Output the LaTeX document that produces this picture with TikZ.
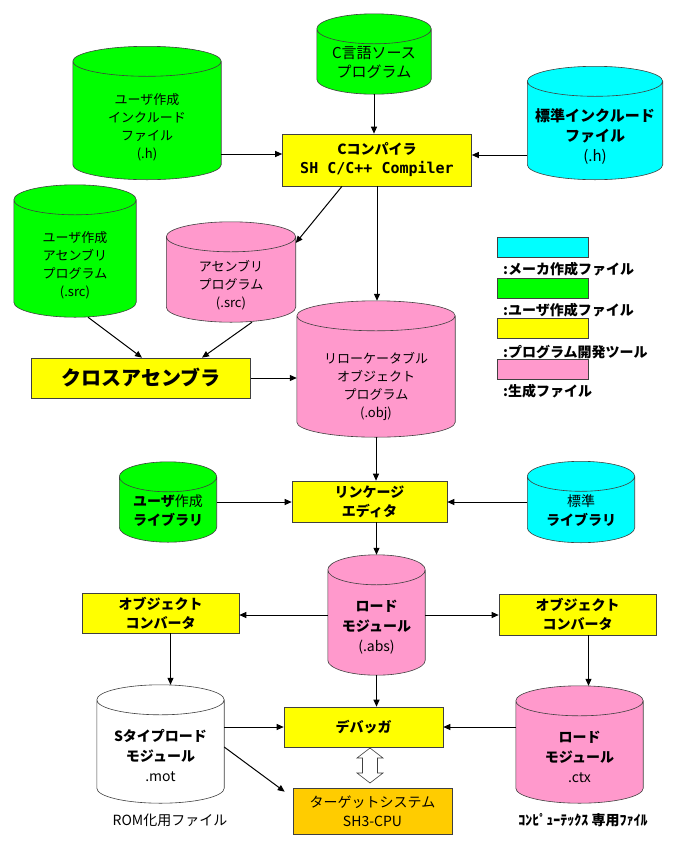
\documentclass[tikz,border=0pt]{standalone}
\usepackage{fontspec}
\setmainfont{Noto Sans CJK JP}
\newfontfamily\latinmono{DejaVu Sans Mono}
\usetikzlibrary{calc,arrows.meta}
\definecolor{makerfile}{RGB}{0,255,255}
\definecolor{userfile}{RGB}{0,255,0}
\definecolor{toolbox}{RGB}{255,255,0}
\definecolor{genfile}{RGB}{255,153,204}
\definecolor{targetbox}{RGB}{255,204,0}

\begin{document}
\begin{tikzpicture}[x=1pt,y=1pt]
            \tikzstyle{every node}+=[inner sep=0pt, font=\fontsize{13}{18}\selectfont]
            \tikzstyle{file}=[rectangle, append after command={\pgfextra{
                \path [fill=#1, draw=black!75, line width=0.6pt] let \p1=(\tikzlastnode.north west), \p2=(\tikzlastnode.south east), \n1={(\x2-\x1)/2}, \n2={\pgfkeysvalueof{/tikz/ry}} in
                    (\x1,\y1-\n2) -- (\x1,\y2+\n2) arc [start angle=180, end angle=360, x radius=\n1, y radius=\n2] -- (\x2,\y1-\n2) arc [start angle=0, end angle=180, x radius=\n1, y radius=\n2] -- cycle
                    (\x1,\y1-\n2) arc [start angle=180, end angle=360, x radius=\n1, y radius=\n2];}}]
            \tikzset{ry/.initial=15pt}
            \tikzstyle{ftext}=[align=center]
            \tikzstyle{tool}=[rectangle, draw=black!75, line width=0.6pt, fill=toolbox, align=center, font=\fontsize{14}{19}\selectfont\bfseries]
            \tikzstyle{legend}=[rectangle, draw=black!75, line width=0.6pt, minimum width=91pt, minimum height=20pt]
            \tikzstyle{legtext}=[anchor=west, font=\fontsize{14}{18}\selectfont\bfseries]
            \tikzstyle{flow}=[-{Triangle[length=7pt,width=6pt]}, line width=1pt]
            \useasboundingbox (0,0) rectangle (699,-847);
            \node [ry=10pt, file=userfile, minimum width=114pt, minimum height=80pt, label={[ftext, yshift=-8pt, font=\fontsize{15}{19}\selectfont]center:{C言語ソース\\プログラム}}] (csrc) at (374,-54) {};
            \node [ry=15.5pt, file=userfile, minimum width=148pt, minimum height=133pt, label={[ftext, yshift=-14pt]center:{ユーザ作成\\インクルード\\ファイル\\(.h)}}] (uinc) at (147,-113) {};
            \node [ry=17pt, file=makerfile, minimum width=135pt, minimum height=113pt, label={[ftext, yshift=-14pt, font=\fontsize{15}{20}\selectfont]center:{\bfseries 標準インクルード\\\bfseries ファイル\\(.h)}}] (sinc) at (595,-123) {};
            \node [tool, minimum width=189pt, minimum height=52pt] (comp) at (377,-160) {Cコンパイラ\\{\latinmono\fontsize{15}{19}\selectfont\bfseries SH C/C++ Compiler}};
            \node [ry=20pt, file=userfile, minimum width=122pt, minimum height=132pt, label={[ftext, yshift=-14pt]center:{ユーザ作成\\アセンブリ\\プログラム\\(.src)}}] (uasm) at (75,-251) {};
            \node [ry=15pt, file=genfile, minimum width=129pt, minimum height=100pt, label={[ftext, yshift=-13pt]center:{アセンブリ\\プログラム\\(.src)}}] (asm) at (231,-272) {};
            \node [tool, minimum width=219pt, minimum height=40pt, font=\fontsize{20}{24}\selectfont\bfseries] (xasm) at (141,-378) {クロスアセンブラ};
            \node [ry=20pt, file=genfile, minimum width=158pt, minimum height=136pt, label={[ftext, yshift=-17pt]center:{リローケータブル\\オブジェクト\\プログラム\\(.obj)}}] (obj) at (376,-369) {};
            \node [legend, fill=makerfile] (lmaker) at (542.5,-247) {};
            \node [legtext] (tmaker) at (503,-269) {:メーカ作成ファイル};
            \node [legend, fill=userfile] (luser) at (542.5,-288) {};
            \node [legtext] (tuser) at (503,-310) {:ユーザ作成ファイル};
            \node [legend, fill=toolbox] (ltool) at (542.5,-328) {};
            \node [legtext] (ttool) at (503,-352) {:プログラム開発ツール};
            \node [legend, fill=genfile] (lgen) at (542.5,-369) {};
            \node [legtext] (tgen) at (503,-391) {:生成ファイル};
            \node [tool, minimum width=155pt, minimum height=41pt] (link) at (369.5,-501.5) {リンケージ\\エディタ};
            \node [ry=11.5pt, file=userfile, minimum width=97pt, minimum height=80pt, label={[ftext, yshift=-9pt, font=\fontsize{14}{19}\selectfont]center:{\textbf{ユーザ}作成\\\bfseries ライブラリ}}] (ulib) at (168,-502) {};
            \node [ry=12.5pt, file=makerfile, minimum width=107pt, minimum height=81pt, label={[ftext, yshift=-9pt, font=\fontsize{14}{19}\selectfont]center:{標準\\\bfseries ライブラリ}}] (slib) at (581,-502) {};
            \node [ry=19pt, file=genfile, minimum width=97pt, minimum height=120pt, label={[ftext, yshift=-12pt, font=\fontsize{14}{20}\selectfont]center:{\bfseries ロード\\\bfseries モジュール\\(.abs)}}] (abs) at (376.5,-615) {};
            \node [tool, minimum width=157pt, minimum height=40pt] (convl) at (160.5,-613) {オブジェクト\\コンバータ};
            \node [tool, minimum width=157pt, minimum height=41pt] (convr) at (577.5,-614.5) {オブジェクト\\コンバータ};
            \node [ry=18.5pt, file=white, minimum width=127pt, minimum height=118pt, label={[ftext, yshift=-12pt, font=\fontsize{14}{20}\selectfont]center:{\bfseries Sタイプロード\\\bfseries モジュール\\.mot}}] (mot) at (160.5,-744) {};
            \node [ry=15.5pt, file=genfile, minimum width=127pt, minimum height=117pt, label={[ftext, yshift=-12pt, font=\fontsize{14}{20}\selectfont]center:{\bfseries ロード\\\bfseries モジュール\\.ctx}}] (ctx) at (579.5,-744.5) {};
            \node [tool, minimum width=159pt, minimum height=40pt] (dbg) at (363.5,-727) {デバッガ};
            \node [tool, fill=targetbox, minimum width=159pt, minimum height=46pt, font=\fontsize{14}{19}\selectfont] (target) at (372.5,-811) {ターゲットシステム\\SH3-CPU};
            \coordinate (io) at (370,-765.5);
            \draw [black!75, fill=white, line width=0.6pt] (io) ++(0,17.5) -- ++(13,-10) -- ++(-5.5,0) -- ++(0,-15) -- ++(5.5,0) -- ++(-13,-10) -- ++(-13,10) -- ++(5.5,0) -- ++(0,15) -- ++(-5.5,0) -- cycle;
            \node [font=\fontsize{14}{18}\selectfont] (rom) at (170,-820) {ROM化用ファイル};
            \node [font=\fontsize{14}{18}\selectfont\bfseries] (cmx) at (583,-820) {ｺﾝﾋﾟｭｰﾃｯｸｽ 専用ﾌｧｲﾙ};
            \draw [flow] (csrc.south) -- (csrc.south |- comp.north);
            \draw [flow] (uinc.east |- 0,-154) -- (comp.west |- 0,-154);
            \draw [flow] (sinc.west |- 0,-155) -- (comp.east |- 0,-155);
            \draw [flow] ([xshift=-35pt]comp.south) -- ([yshift=29pt]asm.east);
            \draw [flow] (comp.south) -- (comp.south |- obj.north);
            \draw [flow] ([xshift=13pt]uasm.south) -- ([xshift=1pt]xasm.north);
            \draw [flow] ([xshift=21pt]asm.south) -- ([xshift=61pt]xasm.north);
            \draw [flow] (xasm.east) -- (xasm.east -| obj.west);
            \draw [flow] (obj.south) -- (obj.south |- link.north);
            \draw [flow] (ulib.east) -- (ulib.east -| link.west);
            \draw [flow] (slib.west) -- (slib.west -| link.east);
            \draw [flow] (link.south -| abs.north) -- (abs.north);
            \draw [flow] (abs.west) -- (abs.west -| convl.east);
            \draw [flow] (abs.east) -- (abs.east -| convr.west);
            \draw [flow] ([xshift=10pt]convl.south) -- ([xshift=10pt]mot.north);
            \draw [flow] ([xshift=11pt]convr.south) -- ([xshift=9pt]ctx.north);
            \draw [flow] (abs.south) -- (abs.south |- dbg.north);
            \draw [flow] (mot.east |- dbg.west) -- (dbg.west);
            \draw [flow] (ctx.west |- dbg.east) -- (dbg.east);
            \draw [flow] ([yshift=-3pt]mot.east) -- ([xshift=-8pt,yshift=-4pt]target.north west);
\end{tikzpicture}
\end{document}
